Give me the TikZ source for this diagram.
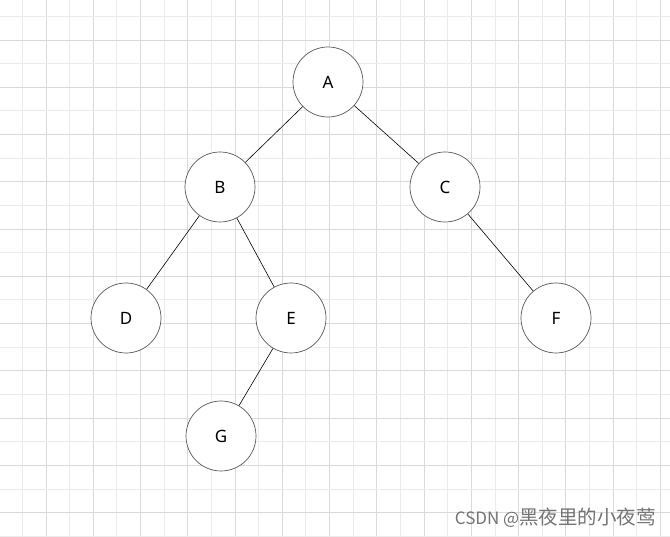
\documentclass[tikz,border=0pt]{standalone}
\usepackage{fontspec}
\setmainfont{Noto Sans}
\newfontfamily\cjk{Noto Sans CJK SC}
\begin{document}
\begin{tikzpicture}[x=1pt,y=-1pt,
  tnode/.style={circle,draw=black!65,line width=0.7pt,fill=white,minimum size=70pt,inner sep=0pt,font=\fontsize{17}{17}\selectfont},
  edge/.style={draw=black,line width=0.6pt},
  minorgrid/.style={draw=black!8,line width=0.8pt},
  majorgrid/.style={draw=black!15,line width=0.8pt}]
\fill[white] (0,0) rectangle (670,537);
\useasboundingbox (0,0) rectangle (670,537);
\foreach \i in {0,...,27} {
  \pgfmathsetmacro{\xx}{22.3+23.63*\i}
  \pgfmathtruncatemacro{\odd}{mod(\i,2)}
  \ifnum\odd=0 \draw[minorgrid] (\xx,0) -- (\xx,537); \else \draw[majorgrid] (\xx,0) -- (\xx,537); \fi
}
\foreach \j in {0,...,22} {
  \pgfmathsetmacro{\yy}{16.3+23.63*\j}
  \pgfmathtruncatemacro{\odd}{mod(\j,2)}
  \ifnum\odd=0 \draw[minorgrid] (0,\yy) -- (670,\yy); \else \draw[majorgrid] (0,\yy) -- (670,\yy); \fi
}
\node[tnode] (A) at (328,82) {A};
\node[tnode] (B) at (220,187) {B};
\node[tnode] (C) at (445,187) {C};
\node[tnode] (D) at (126,318) {D};
\node[tnode] (E) at (291,318) {E};
\node[tnode] (F) at (556,318) {F};
\node[tnode] (G) at (221,436) {G};
\draw[edge] (A) -- (B);
\draw[edge] (A) -- (C);
\draw[edge] (B) -- (D);
\draw[edge] (B) -- (E);
\draw[edge] (C) -- (F);
\draw[edge] (E) -- (G);
\node[anchor=east,text=black!55,font=\cjk,inner sep=0pt] (wm) at (656,518) {\fontsize{17}{17}\selectfont CSDN @\fontsize{19.5}{19.5}\selectfont 黑夜里的小夜莺};
\end{tikzpicture}
\end{document}
